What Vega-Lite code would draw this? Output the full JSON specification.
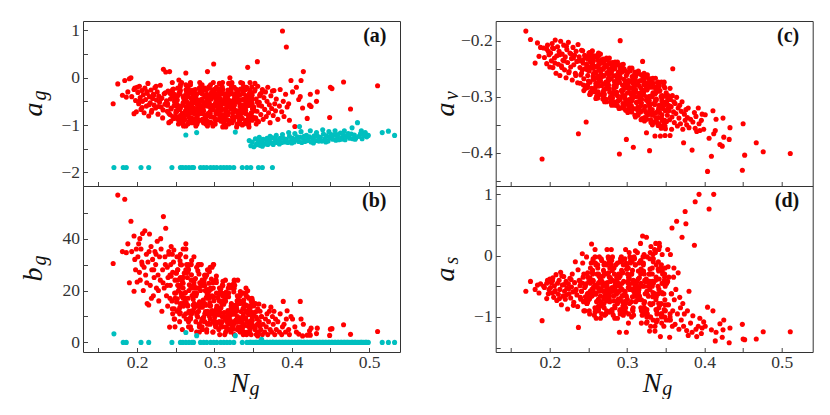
{
"$schema":"https://vega.github.io/schema/vega-lite/v6.json",
"padding":{"left":18,"top":20,"right":0,"bottom":0},
"background":"white",
"datasets":{
"red":[
{"Ng":0.169,"ag":-0.55,"bg":30.4,"av":-0.183,"as":-0.58},
{"Ng":0.175,"ag":-0.13,"bg":56.8,"av":-0.198,"as":-0.42},
{"Ng":0.184,"ag":-0.06,"bg":55.2,"av":-0.204,"as":-0.48},
{"Ng":0.186,"ag":-0.41,"bg":34.6,"av":-0.228,"as":-0.61},
{"Ng":0.190,"ag":-0.02,"bg":23,"av":-0.411,"as":-1.06},
{"Ng":0.192,"ag":0.0,"bg":46.7,"av":-0.213,"as":-0.50},
{"Ng":0.196,"ag":-0.76,"bg":19.7,"av":-0.241,"as":-0.70},
{"Ng":0.196,"ag":-0.25,"bg":41,"av":-0.215,"as":-0.45},
{"Ng":0.199,"ag":-0.72,"bg":36,"av":-0.225,"as":-0.55},
{"Ng":0.200,"ag":-0.20,"bg":23.3,"av":-0.247,"as":-0.38},
{"Ng":0.188,"ag":-0.30,"bg":38,"av":-0.212,"as":-0.46},
{"Ng":0.193,"ag":-0.40,"bg":35,"av":-0.230,"as":-0.52},
{"Ng":0.197,"ag":-0.22,"bg":32,"av":-0.208,"as":-0.40},
{"Ng":0.198,"ag":-0.48,"bg":28,"av":-0.219,"as":-0.62},
{"Ng":0.181,"ag":-0.37,"bg":35,"av":-0.240,"as":-0.55},
{"Ng":0.201,"ag":-0.31,"bg":33,"av":-0.222,"as":-0.52},
{"Ng":0.202,"ag":-0.55,"bg":38,"av":-0.236,"as":-0.44},
{"Ng":0.203,"ag":-0.18,"bg":27,"av":-0.205,"as":-0.61},
{"Ng":0.204,"ag":-0.42,"bg":24,"av":-0.248,"as":-0.36},
{"Ng":0.205,"ag":-0.67,"bg":36,"av":-0.214,"as":-0.68},
{"Ng":0.206,"ag":-0.27,"bg":31,"av":-0.231,"as":-0.49},
{"Ng":0.207,"ag":-0.50,"bg":42,"av":-0.199,"as":-0.57},
{"Ng":0.208,"ag":-0.36,"bg":20,"av":-0.258,"as":-0.31},
{"Ng":0.209,"ag":-0.74,"bg":29,"av":-0.227,"as":-0.73},
{"Ng":0.210,"ag":-0.22,"bg":43,"av":-0.211,"as":-0.45},
{"Ng":0.211,"ag":-0.46,"bg":26,"av":-0.242,"as":-0.63},
{"Ng":0.212,"ag":-0.60,"bg":34,"av":-0.219,"as":-0.40},
{"Ng":0.213,"ag":-0.33,"bg":15,"av":-0.262,"as":-0.55},
{"Ng":0.214,"ag":-0.12,"bg":31,"av":-0.201,"as":-0.27},
{"Ng":0.215,"ag":-0.81,"bg":14.4,"av":-0.245,"as":-0.80},
{"Ng":0.216,"ag":-0.40,"bg":41.8,"av":-0.224,"as":-0.48},
{"Ng":0.217,"ag":-0.53,"bg":22,"av":-0.235,"as":-0.66},
{"Ng":0.218,"ag":-0.26,"bg":37,"av":-0.208,"as":-0.34},
{"Ng":0.219,"ag":-0.69,"bg":28,"av":-0.252,"as":-0.58},
{"Ng":0.220,"ag":-0.44,"bg":32,"av":-0.229,"as":-0.71},
{"Ng":0.221,"ag":-0.35,"bg":18,"av":-0.266,"as":-0.42},
{"Ng":0.222,"ag":-0.58,"bg":25,"av":-0.216,"as":-0.53},
{"Ng":0.223,"ag":-0.21,"bg":35,"av":-0.239,"as":-0.87},
{"Ng":0.224,"ag":-0.64,"bg":30,"av":-0.203,"as":-0.46},
{"Ng":0.225,"ag":-0.47,"bg":21,"av":-0.255,"as":-0.62},
{"Ng":0.226,"ag":-0.30,"bg":39,"av":-0.222,"as":-0.37},
{"Ng":0.227,"ag":-0.77,"bg":26,"av":-0.247,"as":-0.69},
{"Ng":0.228,"ag":-0.39,"bg":16,"av":-0.232,"as":-0.51},
{"Ng":0.229,"ag":-0.52,"bg":33,"av":-0.270,"as":-0.30},
{"Ng":0.230,"ag":-0.16,"bg":24,"av":-0.212,"as":-0.59},
{"Ng":0.231,"ag":-0.62,"bg":36,"av":-0.243,"as":-0.76},
{"Ng":0.232,"ag":-0.43,"bg":12,"av":-0.226,"as":-0.44},
{"Ng":0.233,"ag":-0.85,"bg":28,"av":-0.258,"as":-0.10},
{"Ng":0.234,"ag":0.18,"bg":48.5,"av":-0.219,"as":-0.55},
{"Ng":0.235,"ag":-0.34,"bg":21,"av":-0.237,"as":-0.64},
{"Ng":0.236,"ag":-0.56,"bg":33,"av":-0.275,"as":-0.83},
{"Ng":0.237,"ag":0.12,"bg":44,"av":-0.366,"as":-1.17},
{"Ng":0.238,"ag":-0.49,"bg":18,"av":-0.229,"as":-0.40},
{"Ng":0.239,"ag":-0.71,"bg":29,"av":-0.248,"as":-0.49},
{"Ng":0.240,"ag":-0.28,"bg":25,"av":-0.261,"as":-0.71},
{"Ng":0.241,"ag":-0.95,"bg":35,"av":-0.217,"as":-0.58},
{"Ng":0.242,"ag":0.13,"bg":5.9,"av":-0.252,"as":0.03},
{"Ng":0.243,"ag":-0.45,"bg":22,"av":-0.240,"as":-0.35},
{"Ng":0.244,"ag":-0.66,"bg":37,"av":-0.268,"as":-0.90},
{"Ng":0.245,"ag":-0.38,"bg":16,"av":-0.226,"as":-0.52},
{"Ng":0.246,"ag":-0.82,"bg":27,"av":-0.285,"as":-0.67},
{"Ng":0.247,"ag":-0.24,"bg":31,"av":-0.345,"as":-0.46},
{"Ng":0.248,"ag":-0.59,"bg":13,"av":-0.245,"as":-0.78},
{"Ng":0.249,"ag":-0.41,"bg":24,"av":-0.233,"as":-0.28},
{"Ng":0.250,"ag":-0.74,"bg":19,"av":-0.272,"as":-0.61},
{"Ng":0.2035,"ag":-0.48,"bg":40,"av":-0.213,"as":-0.41},
{"Ng":0.2065,"ag":-0.63,"bg":30,"av":-0.240,"as":-0.59},
{"Ng":0.2125,"ag":-0.29,"bg":23,"av":-0.225,"as":-0.70},
{"Ng":0.2155,"ag":-0.57,"bg":35,"av":-0.248,"as":-0.33},
{"Ng":0.2185,"ag":-0.73,"bg":17,"av":-0.236,"as":-0.47},
{"Ng":0.2215,"ag":-0.37,"bg":28,"av":-0.210,"as":-0.64},
{"Ng":0.2245,"ag":-0.18,"bg":34,"av":-0.257,"as":-0.54},
{"Ng":0.2275,"ag":-0.61,"bg":20,"av":-0.224,"as":-0.39},
{"Ng":0.2305,"ag":-0.45,"bg":40,"av":-0.231,"as":-0.81},
{"Ng":0.2335,"ag":-0.68,"bg":23,"av":-0.262,"as":-0.57},
{"Ng":0.2365,"ag":-0.32,"bg":30,"av":-0.207,"as":-0.23},
{"Ng":0.2395,"ag":-0.55,"bg":14,"av":-0.276,"as":-0.68},
{"Ng":0.2425,"ag":-0.78,"bg":26,"av":-0.235,"as":-0.45},
{"Ng":0.2455,"ag":-0.27,"bg":34,"av":-0.250,"as":-0.74},
{"Ng":0.2485,"ag":-0.51,"bg":9,"av":-0.281,"as":-0.62},
{"Ng":0.2525,"ag":-0.62,"bg":22,"av":-0.237,"as":-0.45},
{"Ng":0.2480,"ag":-0.35,"bg":9,"av":-0.284,"as":-0.78},
{"Ng":0.2525,"ag":-0.88,"bg":28,"av":-0.247,"as":-0.20},
{"Ng":0.2560,"ag":-0.15,"bg":15,"av":-0.269,"as":-0.61},
{"Ng":0.2515,"ag":-0.71,"bg":33,"av":-0.221,"as":-0.95},
{"Ng":0.2490,"ag":-0.49,"bg":6,"av":-0.279,"as":-0.35},
{"Ng":0.2565,"ag":-0.95,"bg":19,"av":-0.259,"as":-0.52},
{"Ng":0.2560,"ag":-0.27,"bg":25,"av":-0.234,"as":-0.05},
{"Ng":0.2515,"ag":-0.56,"bg":12,"av":-0.296,"as":-0.70},
{"Ng":0.2560,"ag":-0.80,"bg":30,"av":-0.244,"as":-0.40},
{"Ng":0.2595,"ag":-0.40,"bg":17,"av":-0.276,"as":-0.88},
{"Ng":0.2550,"ag":-0.67,"bg":8,"av":-0.228,"as":-0.28},
{"Ng":0.2525,"ag":-0.22,"bg":24,"av":-0.292,"as":-0.58},
{"Ng":0.2600,"ag":-1.02,"bg":14,"av":-0.256,"as":-1.02},
{"Ng":0.2595,"ag":-0.53,"bg":36,"av":-0.281,"as":-0.15},
{"Ng":0.2550,"ag":-0.31,"bg":11,"av":-0.218,"as":-0.65},
{"Ng":0.2595,"ag":-0.76,"bg":21,"av":-0.266,"as":-0.48},
{"Ng":0.2630,"ag":-0.44,"bg":27,"av":-0.243,"as":-0.82},
{"Ng":0.2585,"ag":-0.90,"bg":5,"av":-0.290,"as":0.10},
{"Ng":0.2560,"ag":-0.60,"bg":22,"av":-0.249,"as":-0.55},
{"Ng":0.2635,"ag":-0.62,"bg":9,"av":-0.273,"as":-0.33},
{"Ng":0.2630,"ag":-0.35,"bg":28,"av":-0.228,"as":-0.74},
{"Ng":0.2585,"ag":-0.88,"bg":15,"av":-0.285,"as":-0.92},
{"Ng":0.2630,"ag":-0.15,"bg":33,"av":-0.263,"as":-0.45},
{"Ng":0.2665,"ag":-0.71,"bg":6,"av":-0.240,"as":-0.78},
{"Ng":0.2620,"ag":-0.49,"bg":19,"av":-0.302,"as":-0.20},
{"Ng":0.2595,"ag":-0.95,"bg":25,"av":-0.246,"as":-0.61},
{"Ng":0.2670,"ag":-0.27,"bg":12,"av":-0.280,"as":-0.95},
{"Ng":0.2665,"ag":-0.56,"bg":30,"av":-0.235,"as":-0.35},
{"Ng":0.2620,"ag":-0.80,"bg":17,"av":-0.297,"as":-0.52},
{"Ng":0.2665,"ag":-0.40,"bg":8,"av":-0.260,"as":-0.05},
{"Ng":0.2700,"ag":-0.67,"bg":24,"av":-0.287,"as":-0.70},
{"Ng":0.2655,"ag":-0.22,"bg":14,"av":-0.224,"as":-0.40},
{"Ng":0.2630,"ag":-1.02,"bg":36,"av":-0.268,"as":-0.88},
{"Ng":0.2705,"ag":-0.53,"bg":11,"av":-0.247,"as":-0.28},
{"Ng":0.2700,"ag":-0.31,"bg":21,"av":-0.297,"as":-0.58},
{"Ng":0.2655,"ag":-0.76,"bg":27,"av":-0.254,"as":-1.02},
{"Ng":0.2700,"ag":-0.44,"bg":5,"av":-0.277,"as":-0.15},
{"Ng":0.2735,"ag":-0.90,"bg":22,"av":-0.234,"as":-0.65},
{"Ng":0.2690,"ag":-0.60,"bg":9,"av":-0.291,"as":-0.48},
{"Ng":0.2665,"ag":-0.62,"bg":28,"av":-0.265,"as":-0.82},
{"Ng":0.2740,"ag":-0.35,"bg":15,"av":-0.244,"as":0.10},
{"Ng":0.2735,"ag":-0.88,"bg":33,"av":-0.309,"as":-0.55},
{"Ng":0.2690,"ag":-0.15,"bg":6,"av":-0.251,"as":-0.33},
{"Ng":0.2735,"ag":-0.71,"bg":19,"av":-0.284,"as":-0.74},
{"Ng":0.2770,"ag":-0.49,"bg":21,"av":-0.241,"as":-0.92},
{"Ng":0.2725,"ag":-0.95,"bg":12,"av":-0.304,"as":-0.45},
{"Ng":0.2700,"ag":-0.27,"bg":30,"av":-0.262,"as":-0.78},
{"Ng":0.2775,"ag":-0.56,"bg":14,"av":-0.292,"as":-0.20},
{"Ng":0.2770,"ag":-0.80,"bg":4,"av":-0.231,"as":-0.61},
{"Ng":0.2725,"ag":-0.40,"bg":24,"av":-0.274,"as":-0.95},
{"Ng":0.2770,"ag":-0.67,"bg":11,"av":-0.251,"as":-0.35},
{"Ng":0.2805,"ag":-0.22,"bg":30,"av":-0.303,"as":-0.52},
{"Ng":0.2760,"ag":-1.02,"bg":8,"av":-0.261,"as":-0.05},
{"Ng":0.2735,"ag":-0.53,"bg":21,"av":-0.279,"as":-0.70},
{"Ng":0.2810,"ag":-0.31,"bg":23,"av":-0.239,"as":-0.40},
{"Ng":0.2805,"ag":-0.76,"bg":6,"av":-0.298,"as":-0.88},
{"Ng":0.2760,"ag":-0.44,"bg":18,"av":-0.271,"as":-0.28},
{"Ng":0.2805,"ag":-0.90,"bg":7,"av":-0.248,"as":-0.58},
{"Ng":0.2840,"ag":-0.60,"bg":24,"av":-0.315,"as":-1.02},
{"Ng":0.2795,"ag":-0.62,"bg":12,"av":-0.258,"as":-0.15},
{"Ng":0.2770,"ag":-0.35,"bg":29,"av":-0.286,"as":-0.65},
{"Ng":0.2845,"ag":-0.88,"bg":5,"av":-0.246,"as":-0.48},
{"Ng":0.2840,"ag":-0.15,"bg":15,"av":-0.310,"as":-0.82},
{"Ng":0.2795,"ag":-0.71,"bg":21,"av":-0.268,"as":0.10},
{"Ng":0.2840,"ag":-0.49,"bg":9,"av":-0.295,"as":-0.55},
{"Ng":0.2875,"ag":-0.95,"bg":26,"av":-0.238,"as":-0.33},
{"Ng":0.2830,"ag":-0.27,"bg":14,"av":-0.280,"as":-0.74},
{"Ng":0.2805,"ag":-0.56,"bg":4,"av":-0.253,"as":-0.92},
{"Ng":0.2880,"ag":-0.80,"bg":20,"av":-0.308,"as":-0.45},
{"Ng":0.2875,"ag":-0.40,"bg":11,"av":-0.268,"as":-0.78},
{"Ng":0.2830,"ag":-0.67,"bg":30,"av":-0.285,"as":-0.20},
{"Ng":0.2875,"ag":-0.22,"bg":8,"av":-0.243,"as":-0.61},
{"Ng":0.2910,"ag":-1.02,"bg":17,"av":-0.305,"as":-0.95},
{"Ng":0.2865,"ag":-0.53,"bg":23,"av":-0.277,"as":-0.35},
{"Ng":0.2840,"ag":-0.31,"bg":6,"av":-0.250,"as":-0.52},
{"Ng":0.2915,"ag":-0.76,"bg":18,"av":-0.320,"as":-0.05},
{"Ng":0.2910,"ag":-0.44,"bg":7,"av":-0.265,"as":-0.70},
{"Ng":0.2865,"ag":-0.90,"bg":24,"av":-0.292,"as":-0.40},
{"Ng":0.2910,"ag":-0.60,"bg":12,"av":-0.250,"as":-0.88},
{"Ng":0.2945,"ag":-0.62,"bg":29,"av":-0.317,"as":-0.28},
{"Ng":0.2900,"ag":-0.35,"bg":5,"av":-0.274,"as":-0.58},
{"Ng":0.2875,"ag":-0.88,"bg":15,"av":-0.298,"as":-1.02},
{"Ng":0.2950,"ag":-0.15,"bg":21,"av":-0.242,"as":-0.15},
{"Ng":0.2945,"ag":-0.71,"bg":9,"av":-0.287,"as":-0.65},
{"Ng":0.2900,"ag":-0.49,"bg":26,"av":-0.259,"as":-0.48},
{"Ng":0.2945,"ag":-0.95,"bg":14,"av":-0.312,"as":-0.82},
{"Ng":0.2980,"ag":-0.27,"bg":4,"av":-0.274,"as":0.10},
{"Ng":0.2935,"ag":-0.56,"bg":20,"av":-0.291,"as":-0.55},
{"Ng":0.2910,"ag":-0.80,"bg":11,"av":-0.245,"as":-0.33},
{"Ng":0.2985,"ag":-0.40,"bg":30,"av":-0.309,"as":-0.74},
{"Ng":0.2980,"ag":-0.67,"bg":8,"av":-0.284,"as":-0.92},
{"Ng":0.2935,"ag":-0.22,"bg":17,"av":-0.256,"as":-0.45},
{"Ng":0.2980,"ag":-1.02,"bg":23,"av":-0.324,"as":-0.78},
{"Ng":0.3015,"ag":-0.53,"bg":6,"av":-0.271,"as":-0.20},
{"Ng":0.2970,"ag":-0.31,"bg":18,"av":-0.298,"as":-0.61},
{"Ng":0.2945,"ag":-0.76,"bg":7,"av":-0.252,"as":-0.95},
{"Ng":0.3020,"ag":-0.44,"bg":24,"av":-0.321,"as":-0.35},
{"Ng":0.3015,"ag":-0.90,"bg":12,"av":-0.281,"as":-0.52},
{"Ng":0.2970,"ag":-0.60,"bg":29,"av":-0.303,"as":-0.05},
{"Ng":0.3025,"ag":-0.48,"bg":13,"av":-0.312,"as":-0.38},
{"Ng":0.2981,"ag":-0.83,"bg":4,"av":-0.254,"as":-0.85},
{"Ng":0.3026,"ag":-0.20,"bg":19,"av":-0.292,"as":0.05},
{"Ng":0.3062,"ag":-0.66,"bg":8,"av":-0.249,"as":-0.55},
{"Ng":0.3017,"ag":-0.37,"bg":24,"av":-0.326,"as":-1.10},
{"Ng":0.2993,"ag":-0.98,"bg":11,"av":-0.275,"as":-0.22},
{"Ng":0.3068,"ag":-0.55,"bg":3,"av":-0.304,"as":-0.67},
{"Ng":0.3064,"ag":-0.12,"bg":16,"av":-0.264,"as":-0.45},
{"Ng":0.3019,"ag":-0.74,"bg":7,"av":-0.316,"as":-0.95},
{"Ng":0.3065,"ag":-0.42,"bg":21,"av":-0.284,"as":-0.10},
{"Ng":0.3100,"ag":-0.90,"bg":10,"av":-0.256,"as":-0.60},
{"Ng":0.3056,"ag":-0.29,"bg":5,"av":-0.308,"as":-0.30},
{"Ng":0.3031,"ag":-0.61,"bg":14,"av":-0.272,"as":-0.78},
{"Ng":0.3107,"ag":-1.04,"bg":18,"av":-0.336,"as":0.08},
{"Ng":0.3102,"ag":-0.50,"bg":6,"av":-0.271,"as":-0.50},
{"Ng":0.3058,"ag":-0.24,"bg":12,"av":-0.298,"as":-1.00},
{"Ng":0.3103,"ag":-0.79,"bg":22,"av":-0.291,"as":-0.15},
{"Ng":0.3139,"ag":-0.34,"bg":9,"av":-0.318,"as":-0.72},
{"Ng":0.3094,"ag":-0.69,"bg":15,"av":-0.261,"as":-0.42},
{"Ng":0.3070,"ag":-0.58,"bg":13,"av":-0.294,"as":-0.88},
{"Ng":0.3145,"ag":-0.48,"bg":4,"av":-0.254,"as":-0.25},
{"Ng":0.3141,"ag":-0.83,"bg":19,"av":-0.333,"as":-0.62},
{"Ng":0.3096,"ag":-0.20,"bg":8,"av":-0.281,"as":-0.05},
{"Ng":0.3142,"ag":-0.66,"bg":24,"av":-0.309,"as":-0.38},
{"Ng":0.3177,"ag":-0.37,"bg":11,"av":-0.271,"as":-0.85},
{"Ng":0.3133,"ag":-0.98,"bg":3,"av":-0.323,"as":0.05},
{"Ng":0.3108,"ag":-0.55,"bg":16,"av":-0.287,"as":-0.55},
{"Ng":0.3184,"ag":-0.12,"bg":7,"av":-0.261,"as":-1.10},
{"Ng":0.3179,"ag":-0.74,"bg":21,"av":-0.316,"as":-0.22},
{"Ng":0.3135,"ag":-0.42,"bg":10,"av":-0.278,"as":-0.67},
{"Ng":0.3180,"ag":-0.90,"bg":5,"av":-0.341,"as":-0.45},
{"Ng":0.3216,"ag":-0.29,"bg":14,"av":-0.278,"as":-0.95},
{"Ng":0.3171,"ag":-0.61,"bg":18,"av":-0.305,"as":-0.10},
{"Ng":0.3147,"ag":-1.04,"bg":6,"av":-0.294,"as":-0.60},
{"Ng":0.3222,"ag":-0.50,"bg":12,"av":-0.323,"as":-0.30},
{"Ng":0.3218,"ag":-0.24,"bg":22,"av":-0.268,"as":-0.78},
{"Ng":0.3173,"ag":-0.79,"bg":9,"av":-0.300,"as":0.20},
{"Ng":0.3219,"ag":-0.34,"bg":15,"av":-0.258,"as":-0.50},
{"Ng":0.3254,"ag":-0.69,"bg":13,"av":-0.340,"as":-1.00},
{"Ng":0.3210,"ag":-0.58,"bg":4,"av":-0.288,"as":-0.15},
{"Ng":0.3185,"ag":-0.48,"bg":19,"av":-0.311,"as":-0.72},
{"Ng":0.3261,"ag":-0.83,"bg":8,"av":-0.276,"as":-0.42},
{"Ng":0.3256,"ag":-0.20,"bg":24,"av":-0.330,"as":-0.88},
{"Ng":0.3212,"ag":-0.66,"bg":11,"av":-0.293,"as":-0.25},
{"Ng":0.3257,"ag":-0.37,"bg":3,"av":-0.265,"as":-0.62},
{"Ng":0.3293,"ag":-0.98,"bg":16,"av":-0.323,"as":-0.05},
{"Ng":0.3248,"ag":-0.55,"bg":7,"av":-0.285,"as":-0.38},
{"Ng":0.3224,"ag":-0.12,"bg":21,"av":-0.343,"as":-0.85},
{"Ng":0.3299,"ag":-0.74,"bg":10,"av":-0.283,"as":0.05},
{"Ng":0.3295,"ag":-0.42,"bg":5,"av":-0.313,"as":-0.55},
{"Ng":0.3250,"ag":-0.90,"bg":14,"av":-0.300,"as":-1.10},
{"Ng":0.3296,"ag":-0.29,"bg":18,"av":-0.328,"as":-0.22},
{"Ng":0.3331,"ag":-0.61,"bg":6,"av":-0.275,"as":-0.67},
{"Ng":0.3287,"ag":-1.04,"bg":12,"av":-0.307,"as":-0.45},
{"Ng":0.3262,"ag":-0.50,"bg":22,"av":-0.261,"as":-0.95},
{"Ng":0.3338,"ag":-0.24,"bg":9,"av":-0.345,"as":-0.10},
{"Ng":0.3333,"ag":-0.79,"bg":15,"av":-0.295,"as":-0.60},
{"Ng":0.3289,"ag":-0.34,"bg":13,"av":-0.317,"as":-0.30},
{"Ng":0.3334,"ag":-0.69,"bg":4,"av":-0.280,"as":-0.78},
{"Ng":0.3370,"ag":-0.58,"bg":19,"av":-0.337,"as":0.20},
{"Ng":0.3325,"ag":-0.48,"bg":8,"av":-0.300,"as":-0.50},
{"Ng":0.3301,"ag":-0.83,"bg":24,"av":-0.268,"as":-1.00},
{"Ng":0.3376,"ag":-0.20,"bg":11,"av":-0.328,"as":-0.15},
{"Ng":0.3372,"ag":-0.66,"bg":3,"av":-0.292,"as":-0.72},
{"Ng":0.3327,"ag":-0.37,"bg":16,"av":-0.350,"as":-0.42},
{"Ng":0.3373,"ag":-0.98,"bg":7,"av":-0.287,"as":-0.88},
{"Ng":0.3408,"ag":-0.55,"bg":21,"av":-0.320,"as":-0.25},
{"Ng":0.3364,"ag":-0.12,"bg":10,"av":-0.307,"as":-0.62},
{"Ng":0.3339,"ag":-0.74,"bg":5,"av":-0.330,"as":-0.05},
{"Ng":0.3415,"ag":-0.42,"bg":14,"av":-0.280,"as":-0.38},
{"Ng":0.3410,"ag":-0.90,"bg":18,"av":-0.315,"as":-0.85},
{"Ng":0.3366,"ag":-0.29,"bg":6,"av":-0.267,"as":0.05},
{"Ng":0.3411,"ag":-0.61,"bg":12,"av":-0.350,"as":-0.55},
{"Ng":0.3447,"ag":-1.04,"bg":17,"av":-0.302,"as":-1.10},
{"Ng":0.3402,"ag":-0.50,"bg":9,"av":-0.324,"as":-0.22},
{"Ng":0.3378,"ag":-0.24,"bg":15,"av":-0.283,"as":-0.67},
{"Ng":0.3453,"ag":-0.79,"bg":13,"av":-0.342,"as":-0.45},
{"Ng":0.3449,"ag":-0.34,"bg":4,"av":-0.307,"as":-0.95},
{"Ng":0.3404,"ag":-0.69,"bg":19,"av":-0.274,"as":-0.10},
{"Ng":0.3450,"ag":-0.58,"bg":8,"av":-0.332,"as":-0.60},
{"Ng":0.3485,"ag":-0.48,"bg":17,"av":-0.299,"as":-0.30},
{"Ng":0.3441,"ag":-0.83,"bg":11,"av":-0.356,"as":-0.78},
{"Ng":0.3416,"ag":-0.20,"bg":3,"av":-0.290,"as":0.20},
{"Ng":0.3492,"ag":-0.66,"bg":16,"av":-0.325,"as":-0.50},
{"Ng":0.3487,"ag":-0.37,"bg":7,"av":-0.314,"as":-1.00},
{"Ng":0.3443,"ag":-0.98,"bg":14,"av":-0.337,"as":-0.15},
{"Ng":0.3488,"ag":-0.55,"bg":10,"av":-0.284,"as":-0.72},
{"Ng":0.3524,"ag":-0.12,"bg":5,"av":-0.321,"as":-0.42},
{"Ng":0.3479,"ag":-0.74,"bg":14,"av":-0.274,"as":-0.88},
{"Ng":0.3455,"ag":-0.42,"bg":12,"av":-0.352,"as":-0.25},
{"Ng":0.351,"ag":-0.62,"bg":11,"av":-0.310,"as":-0.45},
{"Ng":0.352,"ag":-0.28,"bg":6,"av":-0.333,"as":-0.80},
{"Ng":0.353,"ag":-0.85,"bg":15,"av":-0.298,"as":-0.18},
{"Ng":0.354,"ag":-0.45,"bg":3,"av":-0.322,"as":-1.05},
{"Ng":0.355,"ag":-0.71,"bg":9,"av":-0.341,"as":-1.33},
{"Ng":0.356,"ag":-0.18,"bg":13,"av":-0.305,"as":0.02},
{"Ng":0.357,"ag":-0.93,"bg":4,"av":-0.318,"as":-0.62},
{"Ng":0.358,"ag":-0.52,"bg":8,"av":-0.336,"as":0.45},
{"Ng":0.359,"ag":-0.35,"bg":12,"av":-0.250,"as":-0.90},
{"Ng":0.360,"ag":-0.78,"bg":5,"av":-0.327,"as":-0.35},
{"Ng":0.361,"ag":-0.60,"bg":10,"av":-0.346,"as":-0.72},
{"Ng":0.362,"ag":-0.25,"bg":3,"av":-0.312,"as":-1.12},
{"Ng":0.363,"ag":-0.88,"bg":7,"av":-0.330,"as":-0.55},
{"Ng":0.364,"ag":-0.42,"bg":14,"av":-0.301,"as":0.56},
{"Ng":0.365,"ag":-0.67,"bg":4,"av":-0.352,"as":-0.95},
{"Ng":0.366,"ag":-0.30,"bg":9,"av":-0.320,"as":-0.28},
{"Ng":0.367,"ag":-0.82,"bg":6,"av":-0.338,"as":-1.20},
{"Ng":0.368,"ag":-0.50,"bg":11,"av":-0.315,"as":-0.68},
{"Ng":0.369,"ag":-0.20,"bg":3,"av":-0.348,"as":-0.85},
{"Ng":0.370,"ag":-0.74,"bg":8,"av":-0.326,"as":-1.05},
{"Ng":0.371,"ag":-0.57,"bg":12,"av":-0.309,"as":0.30},
{"Ng":0.372,"ag":-0.95,"bg":5,"av":-0.358,"as":-0.78},
{"Ng":0.373,"ag":-0.38,"bg":13.6,"av":-0.382,"as":-1.15},
{"Ng":0.374,"ag":-0.65,"bg":4,"av":-0.331,"as":-0.95},
{"Ng":0.375,"ag":-0.28,"bg":10,"av":-0.342,"as":0.72},
{"Ng":0.376,"ag":-0.80,"bg":7,"av":-0.323,"as":0.52},
{"Ng":0.377,"ag":-0.27,"bg":12,"av":-0.350,"as":-1.22},
{"Ng":0.378,"ag":-0.55,"bg":3,"av":-0.337,"as":-0.90},
{"Ng":0.379,"ag":-0.70,"bg":9,"av":-0.320,"as":-1.30},
{"Ng":0.380,"ag":-0.45,"bg":5,"av":-0.355,"as":-0.58},
{"Ng":0.382,"ag":-0.88,"bg":8,"av":-0.340,"as":-1.10},
{"Ng":0.384,"ag":-0.60,"bg":4,"av":-0.395,"as":-1.25},
{"Ng":0.385,"ag":-0.25,"bg":11,"av":-0.345,"as":-0.98},
{"Ng":0.387,"ag":-0.72,"bg":3,"av":-0.328,"as":0.17},
{"Ng":0.388,"ag":0.99,"bg":6,"av":-0.356,"as":0.88},
{"Ng":0.389,"ag":-0.50,"bg":15.8,"av":-0.335,"as":-1.20},
{"Ng":0.390,"ag":-0.82,"bg":7,"av":-0.362,"as":-1.32},
{"Ng":0.392,"ag":-0.35,"bg":4,"av":-0.320,"as":-1.15},
{"Ng":0.393,"ag":0.65,"bg":9,"av":-0.348,"as":1.00},
{"Ng":0.394,"ag":-0.62,"bg":12.2,"av":-0.360,"as":-1.02},
{"Ng":0.396,"ag":-0.55,"bg":5,"av":-0.342,"as":-1.27},
{"Ng":0.397,"ag":-0.90,"bg":3,"av":-0.331,"as":-1.18},
{"Ng":0.399,"ag":-0.06,"bg":10,"av":-0.358,"as":-1.08},
{"Ng":0.3555,"ag":0.34,"bg":7,"av":-0.369,"as":-1.00},
{"Ng":0.343,"ag":0.22,"bg":19.9,"av":-0.370,"as":-1.32},
{"Ng":0.349,"ag":-0.90,"bg":6,"av":-0.369,"as":-0.80},
{"Ng":0.336,"ag":-1.00,"bg":5,"av":-0.370,"as":-1.23},
{"Ng":0.325,"ag":-0.60,"bg":22.8,"av":-0.364,"as":0.30},
{"Ng":0.329,"ag":-0.70,"bg":8,"av":-0.396,"as":-1.23},
{"Ng":0.320,"ag":0.00,"bg":5,"av":-0.237,"as":0.32},
{"Ng":0.299,"ag":0.29,"bg":30,"av":-0.376,"as":-1.25},
{"Ng":0.308,"ag":-0.30,"bg":6,"av":-0.390,"as":-0.40},
{"Ng":0.290,"ag":-0.95,"bg":4,"av":-0.402,"as":-1.25},
{"Ng":0.263,"ag":0.10,"bg":38,"av":-0.222,"as":-0.30},
{"Ng":0.254,"ag":-0.05,"bg":33,"av":-0.240,"as":0.19},
{"Ng":0.291,"ag":0.13,"bg":28,"av":-0.200,"as":-0.10},
{"Ng":0.401,"ag":-0.30,"bg":9,"av":-0.332,"as":-1.15},
{"Ng":0.404,"ag":-1.03,"bg":6,"av":-0.433,"as":-0.84},
{"Ng":0.406,"ag":-0.20,"bg":4,"av":-0.374,"as":0.76},
{"Ng":0.409,"ag":-0.46,"bg":3.2,"av":-0.406,"as":-1.21},
{"Ng":0.411,"ag":-0.40,"bg":15.8,"av":-0.325,"as":-0.90},
{"Ng":0.412,"ag":-0.06,"bg":9,"av":-0.366,"as":1.00},
{"Ng":0.414,"ag":-0.64,"bg":2.5,"av":-0.360,"as":-1.39},
{"Ng":0.415,"ag":0.13,"bg":7,"av":-0.340,"as":-1.25},
{"Ng":0.420,"ag":-0.86,"bg":2.8,"av":-0.385,"as":-1.11},
{"Ng":0.423,"ag":-0.58,"bg":4.5,"av":-0.388,"as":-1.33},
{"Ng":0.424,"ag":-0.35,"bg":2.8,"av":-0.338,"as":-1.21},
{"Ng":0.425,"ag":-0.61,"bg":5.5,"av":-0.372,"as":-1.05},
{"Ng":0.432,"ag":-0.50,"bg":3.4,"av":-0.376,"as":-1.42},
{"Ng":0.433,"ag":-0.30,"bg":5.5,"av":-0.355,"as":-1.18},
{"Ng":0.449,"ag":-0.84,"bg":2.7,"av":-0.431,"as":-1.12},
{"Ng":0.450,"ag":-0.20,"bg":5.1,"av":-0.348,"as":-1.36},
{"Ng":0.452,"ag":-0.23,"bg":5.3,"av":-0.404,"as":-1.37},
{"Ng":0.467,"ag":-0.09,"bg":6.8,"av":-0.382,"as":-1.36},
{"Ng":0.476,"ag":-0.66,"bg":3.1,"av":-0.398,"as":-1.24},
{"Ng":0.511,"ag":-0.17,"bg":4.2,"av":-0.401,"as":-1.24},
{"Ng":0.2390,"ag":-0.58,"bg":22,"av":-0.236,"as":-0.42},
{"Ng":0.2435,"ag":-0.92,"bg":30,"av":-0.279,"as":-0.75},
{"Ng":0.2425,"ag":-0.33,"bg":17,"av":-0.218,"as":-0.12},
{"Ng":0.2410,"ag":-0.75,"bg":34,"av":-0.258,"as":-0.58},
{"Ng":0.2455,"ag":-0.10,"bg":13,"av":-0.230,"as":-0.90},
{"Ng":0.2440,"ag":-0.64,"bg":25.5,"av":-0.289,"as":-0.30},
{"Ng":0.2485,"ag":-0.45,"bg":19,"av":-0.252,"as":-0.66},
{"Ng":0.2475,"ag":-0.86,"bg":35.6,"av":-0.242,"as":-0.02},
{"Ng":0.2460,"ag":-0.25,"bg":11,"av":-0.281,"as":-0.50},
{"Ng":0.2505,"ag":-0.70,"bg":26.7,"av":-0.222,"as":-0.42},
{"Ng":0.2490,"ag":-0.52,"bg":17,"av":-0.262,"as":-0.75},
{"Ng":0.2535,"ag":-0.98,"bg":20,"av":-0.235,"as":-0.12},
{"Ng":0.2525,"ag":-0.38,"bg":28,"av":-0.295,"as":-0.58},
{"Ng":0.2510,"ag":-0.58,"bg":15.6,"av":-0.254,"as":-0.90},
{"Ng":0.2555,"ag":-0.92,"bg":31.5,"av":-0.246,"as":-0.30},
{"Ng":0.2540,"ag":-0.33,"bg":12.6,"av":-0.285,"as":-0.66},
{"Ng":0.2585,"ag":-0.75,"bg":23.5,"av":-0.227,"as":-0.02},
{"Ng":0.2575,"ag":-0.10,"bg":17.8,"av":-0.268,"as":-0.50},
{"Ng":0.2560,"ag":-0.64,"bg":34,"av":-0.237,"as":-0.42},
{"Ng":0.2605,"ag":-0.45,"bg":10.2,"av":-0.299,"as":-0.75},
{"Ng":0.2590,"ag":-0.86,"bg":25,"av":-0.258,"as":-0.12},
{"Ng":0.2635,"ag":-0.25,"bg":15.4,"av":-0.251,"as":-0.58},
{"Ng":0.2625,"ag":-0.70,"bg":19.2,"av":-0.291,"as":-0.90},
{"Ng":0.2610,"ag":-0.52,"bg":26.7,"av":-0.229,"as":-0.30},
{"Ng":0.2655,"ag":-0.98,"bg":14.3,"av":-0.272,"as":-0.66},
{"Ng":0.2640,"ag":-0.38,"bg":30,"av":-0.241,"as":-0.02},
{"Ng":0.2685,"ag":-0.58,"bg":11.2,"av":-0.304,"as":-0.50},
{"Ng":0.2675,"ag":-0.92,"bg":22.2,"av":-0.263,"as":-0.42},
{"Ng":0.2660,"ag":-0.33,"bg":17,"av":-0.253,"as":-0.75},
{"Ng":0.2705,"ag":-0.75,"bg":31.6,"av":-0.295,"as":-0.12},
{"Ng":0.2690,"ag":-0.10,"bg":9.6,"av":-0.233,"as":-0.58},
{"Ng":0.2735,"ag":-0.64,"bg":23,"av":-0.277,"as":-0.90},
{"Ng":0.2725,"ag":-0.45,"bg":14.4,"av":-0.247,"as":-0.30},
{"Ng":0.2710,"ag":-0.86,"bg":18.1,"av":-0.306,"as":-0.66},
{"Ng":0.2755,"ag":-0.25,"bg":24.6,"av":-0.268,"as":-0.02},
{"Ng":0.2740,"ag":-0.70,"bg":13.4,"av":-0.257,"as":-0.50},
{"Ng":0.2785,"ag":-0.52,"bg":27.6,"av":-0.300,"as":-0.42},
{"Ng":0.2775,"ag":-0.98,"bg":10.4,"av":-0.239,"as":-0.75},
{"Ng":0.2760,"ag":-0.38,"bg":21,"av":-0.279,"as":-0.12},
{"Ng":0.2805,"ag":-0.58,"bg":15.2,"av":-0.251,"as":-0.58},
{"Ng":0.2790,"ag":-0.92,"bg":30,"av":-0.310,"as":-0.90},
{"Ng":0.2835,"ag":-0.33,"bg":8.2,"av":-0.273,"as":-0.30},
{"Ng":0.2825,"ag":-0.75,"bg":21.7,"av":-0.263,"as":-0.66},
{"Ng":0.2810,"ag":-0.10,"bg":13.6,"av":-0.302,"as":-0.02},
{"Ng":0.2855,"ag":-0.64,"bg":16.3,"av":-0.243,"as":-0.50},
{"Ng":0.2840,"ag":-0.45,"bg":23,"av":-0.283,"as":-0.42},
{"Ng":0.2885,"ag":-0.86,"bg":11.9,"av":-0.256,"as":-0.75},
{"Ng":0.2875,"ag":-0.25,"bg":25.8,"av":-0.316,"as":-0.12},
{"Ng":0.2860,"ag":-0.70,"bg":9.7,"av":-0.275,"as":-0.58},
{"Ng":0.2905,"ag":-0.52,"bg":18.9,"av":-0.267,"as":-0.90},
{"Ng":0.2890,"ag":-0.98,"bg":14.3,"av":-0.306,"as":-0.30},
{"Ng":0.2935,"ag":-0.38,"bg":27.3,"av":-0.248,"as":-0.66},
{"Ng":0.2925,"ag":-0.58,"bg":7.4,"av":-0.289,"as":-0.02},
{"Ng":0.2910,"ag":-0.92,"bg":20.4,"av":-0.258,"as":-0.50},
{"Ng":0.2955,"ag":-0.33,"bg":11.9,"av":-0.320,"as":-0.42},
{"Ng":0.2940,"ag":-0.75,"bg":15.25,"av":-0.279,"as":-0.75},
{"Ng":0.2985,"ag":-0.10,"bg":21,"av":-0.272,"as":-0.12},
{"Ng":0.2975,"ag":-0.64,"bg":10.9,"av":-0.312,"as":-0.58},
{"Ng":0.2960,"ag":-0.45,"bg":24.4,"av":-0.250,"as":-0.90},
{"Ng":0.3005,"ag":-0.86,"bg":8.1,"av":-0.293,"as":-0.30},
{"Ng":0.2990,"ag":-0.25,"bg":17.6,"av":-0.262,"as":-0.66},
{"Ng":0.3035,"ag":-0.70,"bg":12.6,"av":-0.325,"as":-0.02},
{"Ng":0.3025,"ag":-0.52,"bg":25.6,"av":-0.285,"as":-0.50},
{"Ng":0.3010,"ag":-0.98,"bg":6.8,"av":-0.274,"as":-0.42},
{"Ng":0.3055,"ag":-0.38,"bg":18.4,"av":-0.316,"as":-0.75},
{"Ng":0.3040,"ag":-0.58,"bg":11,"av":-0.254,"as":-0.12},
{"Ng":0.3085,"ag":-0.92,"bg":13.4,"av":-0.298,"as":-0.58},
{"Ng":0.3075,"ag":-0.33,"bg":19.6,"av":-0.268,"as":-0.90},
{"Ng":0.3060,"ag":-0.75,"bg":10.7,"av":-0.327,"as":-0.30},
{"Ng":0.3105,"ag":-0.10,"bg":22.1,"av":-0.289,"as":-0.66},
{"Ng":0.3090,"ag":-0.64,"bg":7.5,"av":-0.278,"as":-0.02},
{"Ng":0.3135,"ag":-0.45,"bg":16.3,"av":-0.321,"as":-0.50},
{"Ng":0.3125,"ag":-0.86,"bg":11.5,"av":-0.260,"as":-0.42},
{"Ng":0.3110,"ag":-0.25,"bg":23.6,"av":-0.300,"as":-0.75},
{"Ng":0.3155,"ag":-0.70,"bg":5.6,"av":-0.272,"as":-0.12},
{"Ng":0.3140,"ag":-0.52,"bg":17,"av":-0.331,"as":-0.58},
{"Ng":0.3185,"ag":-0.98,"bg":9.4,"av":-0.294,"as":-0.90},
{"Ng":0.3175,"ag":-0.38,"bg":12.3,"av":-0.284,"as":-0.30},
{"Ng":0.3160,"ag":-0.58,"bg":17.9,"av":-0.323,"as":-0.66},
{"Ng":0.3205,"ag":-0.92,"bg":8.5,"av":-0.264,"as":-0.02},
{"Ng":0.3190,"ag":-0.33,"bg":22.1,"av":-0.304,"as":-0.50},
{"Ng":0.3235,"ag":-0.75,"bg":6.2,"av":-0.277,"as":-0.42},
{"Ng":0.3225,"ag":-0.10,"bg":14.4,"av":-0.337,"as":-0.75},
{"Ng":0.3210,"ag":-0.64,"bg":10.6,"av":-0.296,"as":-0.12},
{"Ng":0.3255,"ag":-0.45,"bg":20.9,"av":-0.288,"as":-0.58},
{"Ng":0.3240,"ag":-0.86,"bg":5.1,"av":-0.327,"as":-0.90},
{"Ng":0.3285,"ag":-0.25,"bg":14.1,"av":-0.269,"as":-0.30},
{"Ng":0.3275,"ag":-0.70,"bg":8.5,"av":-0.310,"as":-0.66},
{"Ng":0.3260,"ag":-0.52,"bg":11.25,"av":-0.279,"as":-0.02},
{"Ng":0.3305,"ag":-0.98,"bg":15.7,"av":-0.341,"as":-1.15},
{"Ng":0.3290,"ag":-0.38,"bg":7.8,"av":-0.300,"as":-0.42},
{"Ng":0.3335,"ag":-0.58,"bg":19.6,"av":-0.293,"as":-1.05},
{"Ng":0.3325,"ag":-0.92,"bg":4.4,"av":-0.333,"as":-0.20},
{"Ng":0.3310,"ag":-0.33,"bg":15.2,"av":-0.271,"as":-0.80},
{"Ng":0.3355,"ag":-0.75,"bg":7.8,"av":-0.314,"as":0.10},
{"Ng":0.3340,"ag":-0.10,"bg":18.9,"av":-0.283,"as":-0.45},
{"Ng":0.3385,"ag":-0.64,"bg":3.9,"av":-0.346,"as":-0.95},
{"Ng":0.3375,"ag":-0.45,"bg":13.2,"av":-0.306,"as":-0.35},
{"Ng":0.3360,"ag":-0.86,"bg":8.9,"av":-0.295,"as":-1.15},
{"Ng":0.3405,"ag":-0.25,"bg":9.4,"av":-0.337,"as":-0.62},
{"Ng":0.3390,"ag":-0.70,"bg":14.1,"av":-0.275,"as":-1.05},
{"Ng":0.3435,"ag":-0.52,"bg":6.3,"av":-0.319,"as":-0.20},
{"Ng":0.3425,"ag":-0.98,"bg":17.6,"av":-0.289,"as":-0.80},
{"Ng":0.3410,"ag":-0.38,"bg":3.9,"av":-0.348,"as":0.10},
{"Ng":0.3455,"ag":-0.58,"bg":12.1,"av":-0.310,"as":-0.45},
{"Ng":0.3440,"ag":-0.92,"bg":7.7,"av":-0.299,"as":-0.95},
{"Ng":0.3485,"ag":-0.33,"bg":15,"av":-0.342,"as":-0.35},
{"Ng":0.3475,"ag":-0.75,"bg":3,"av":-0.281,"as":-1.15},
{"Ng":0.3460,"ag":-0.10,"bg":13,"av":-0.321,"as":-0.62},
{"Ng":0.3505,"ag":-0.64,"bg":6.1,"av":-0.293,"as":-1.05},
{"Ng":0.3490,"ag":-0.45,"bg":8.4,"av":-0.352,"as":-0.20},
{"Ng":0.3535,"ag":-0.86,"bg":11.8,"av":-0.315,"as":-0.80},
{"Ng":0.3525,"ag":-0.25,"bg":5.5,"av":-0.305,"as":0.10},
{"Ng":0.3510,"ag":-0.70,"bg":14.1,"av":-0.344,"as":-0.45},
{"Ng":0.3555,"ag":-0.52,"bg":3.6,"av":-0.285,"as":-0.95},
{"Ng":0.3540,"ag":-0.98,"bg":9.8,"av":-0.325,"as":-0.35},
{"Ng":0.3585,"ag":-0.38,"bg":6.2,"av":-0.298,"as":-1.15},
{"Ng":0.3575,"ag":-0.58,"bg":14.8,"av":-0.358,"as":-0.62},
{"Ng":0.3560,"ag":-0.92,"bg":2.5,"av":-0.317,"as":-1.05},
{"Ng":0.3605,"ag":-0.33,"bg":9.9,"av":-0.309,"as":-0.20},
{"Ng":0.2520,"ag":-0.47,"bg":16.8,"av":-0.274,"as":-0.36},
{"Ng":0.2508,"ag":-0.83,"bg":26.9,"av":-0.228,"as":-0.71},
{"Ng":0.2558,"ag":-0.19,"bg":11.4,"av":-0.264,"as":-0.08},
{"Ng":0.2544,"ag":-0.66,"bg":21.5,"av":-0.220,"as":-0.55},
{"Ng":0.2575,"ag":-0.95,"bg":29.9,"av":-0.291,"as":-0.97},
{"Ng":0.2553,"ag":-0.34,"bg":13.5,"av":-0.244,"as":-0.24},
{"Ng":0.2595,"ag":-0.58,"bg":22.8,"av":-0.303,"as":-0.63},
{"Ng":0.2583,"ag":-0.76,"bg":18.1,"av":-0.256,"as":-0.85},
{"Ng":0.2633,"ag":-0.26,"bg":27,"av":-0.281,"as":-0.44},
{"Ng":0.2619,"ag":-0.89,"bg":15.7,"av":-0.235,"as":-0.15},
{"Ng":0.2650,"ag":-0.52,"bg":25,"av":-0.270,"as":-0.36},
{"Ng":0.2628,"ag":-0.47,"bg":11,"av":-0.225,"as":-0.71},
{"Ng":0.2670,"ag":-0.83,"bg":20,"av":-0.296,"as":-0.08},
{"Ng":0.2658,"ag":-0.19,"bg":28.7,"av":-0.250,"as":-0.55},
{"Ng":0.2708,"ag":-0.66,"bg":12.2,"av":-0.309,"as":-0.97},
{"Ng":0.2694,"ag":-0.95,"bg":21.6,"av":-0.263,"as":-0.24},
{"Ng":0.2725,"ag":-0.34,"bg":16.6,"av":-0.286,"as":-0.63},
{"Ng":0.2703,"ag":-0.58,"bg":26.1,"av":-0.239,"as":-0.85},
{"Ng":0.2745,"ag":-0.76,"bg":14.6,"av":-0.276,"as":-0.44},
{"Ng":0.2733,"ag":-0.26,"bg":23.8,"av":-0.231,"as":-0.15},
{"Ng":0.2783,"ag":-0.89,"bg":9.8,"av":-0.303,"as":-0.36},
{"Ng":0.2769,"ag":-0.52,"bg":18.9,"av":-0.257,"as":-0.71},
{"Ng":0.2800,"ag":-0.47,"bg":26.4,"av":-0.315,"as":-0.08},
{"Ng":0.2778,"ag":-0.83,"bg":11.6,"av":-0.268,"as":-0.55},
{"Ng":0.2820,"ag":-0.19,"bg":20,"av":-0.292,"as":-0.97},
{"Ng":0.2808,"ag":-0.66,"bg":15.7,"av":-0.246,"as":-0.24},
{"Ng":0.2858,"ag":-0.95,"bg":23.8,"av":-0.282,"as":-0.63},
{"Ng":0.2844,"ag":-0.34,"bg":13.6,"av":-0.238,"as":-0.85},
{"Ng":0.2875,"ag":-0.58,"bg":21.8,"av":-0.308,"as":-0.44},
{"Ng":0.2853,"ag":-0.76,"bg":9.3,"av":-0.262,"as":-0.15},
{"Ng":0.2895,"ag":-0.26,"bg":17.4,"av":-0.321,"as":-0.36},
{"Ng":0.2883,"ag":-0.89,"bg":25.1,"av":-0.274,"as":-0.71},
{"Ng":0.2933,"ag":-0.52,"bg":10.2,"av":-0.299,"as":-0.08},
{"Ng":0.2919,"ag":-0.47,"bg":18.7,"av":-0.253,"as":-0.55},
{"Ng":0.2950,"ag":-0.83,"bg":14.2,"av":-0.288,"as":-0.97},
{"Ng":0.2928,"ag":-0.19,"bg":22.8,"av":-0.243,"as":-0.24},
{"Ng":0.2970,"ag":-0.66,"bg":12.3,"av":-0.314,"as":-0.63},
{"Ng":0.2958,"ag":-0.95,"bg":20.6,"av":-0.269,"as":-0.85},
{"Ng":0.3008,"ag":-0.34,"bg":7.8,"av":-0.328,"as":-0.44},
{"Ng":0.2994,"ag":-0.58,"bg":16.1,"av":-0.281,"as":-0.15},
{"Ng":0.3025,"ag":-0.76,"bg":23.1,"av":-0.305,"as":-0.36},
{"Ng":0.3003,"ag":-0.26,"bg":9.7,"av":-0.258,"as":-0.71},
{"Ng":0.3045,"ag":-0.89,"bg":17.2,"av":-0.294,"as":-0.08},
{"Ng":0.3033,"ag":-0.52,"bg":13.3,"av":-0.249,"as":-0.55},
{"Ng":0.3083,"ag":-0.47,"bg":20.7,"av":-0.321,"as":-0.97},
{"Ng":0.3069,"ag":-0.83,"bg":11.4,"av":-0.275,"as":-0.24},
{"Ng":0.3100,"ag":-0.19,"bg":18.9,"av":-0.333,"as":-0.63},
{"Ng":0.3078,"ag":-0.66,"bg":7.3,"av":-0.286,"as":-0.85},
{"Ng":0.3120,"ag":-0.95,"bg":14.7,"av":-0.310,"as":-0.44},
{"Ng":0.3108,"ag":-0.34,"bg":21.9,"av":-0.265,"as":-0.15},
{"Ng":0.3158,"ag":-0.58,"bg":8.1,"av":-0.301,"as":-0.36},
{"Ng":0.3144,"ag":-0.76,"bg":15.9,"av":-0.256,"as":-0.71},
{"Ng":0.3175,"ag":-0.26,"bg":11.9,"av":-0.327,"as":-0.08},
{"Ng":0.3153,"ag":-0.89,"bg":19.4,"av":-0.280,"as":-0.55},
{"Ng":0.3195,"ag":-0.52,"bg":10.2,"av":-0.339,"as":-0.97},
{"Ng":0.3183,"ag":-0.47,"bg":17.6,"av":-0.292,"as":-0.24},
{"Ng":0.3233,"ag":-0.83,"bg":6.3,"av":-0.317,"as":-0.62},
{"Ng":0.3219,"ag":-0.19,"bg":13.5,"av":-0.271,"as":0.02},
{"Ng":0.3250,"ag":-0.66,"bg":19.5,"av":-0.306,"as":-0.90},
{"Ng":0.3228,"ag":-0.95,"bg":7.7,"av":-0.261,"as":-0.40},
{"Ng":0.3270,"ag":-0.34,"bg":14.3,"av":-0.332,"as":-0.50},
{"Ng":0.3258,"ag":-0.58,"bg":10.9,"av":-0.287,"as":-1.08},
{"Ng":0.3308,"ag":-0.76,"bg":17.2,"av":-0.346,"as":0.15},
{"Ng":0.3294,"ag":-0.26,"bg":9.2,"av":-0.299,"as":-0.78},
{"Ng":0.3325,"ag":-0.89,"bg":15.6,"av":-0.323,"as":-0.30},
{"Ng":0.3303,"ag":-0.52,"bg":5.8,"av":-0.276,"as":-1.00},
{"Ng":0.3345,"ag":-0.47,"bg":11.9,"av":-0.312,"as":-0.62},
{"Ng":0.3333,"ag":-0.83,"bg":18.1,"av":-0.267,"as":0.02},
{"Ng":0.3383,"ag":-0.19,"bg":6.4,"av":-0.339,"as":-0.90},
{"Ng":0.3369,"ag":-0.66,"bg":13,"av":-0.293,"as":-0.40},
{"Ng":0.3400,"ag":-0.95,"bg":9.5,"av":-0.351,"as":-0.50},
{"Ng":0.3378,"ag":-0.34,"bg":16.3,"av":-0.304,"as":-1.08},
{"Ng":0.3420,"ag":-0.58,"bg":7.9,"av":-0.328,"as":0.15},
{"Ng":0.3408,"ag":-0.76,"bg":14.4,"av":-0.282,"as":-0.78},
{"Ng":0.3458,"ag":-0.26,"bg":4.6,"av":-0.318,"as":-0.30},
{"Ng":0.3444,"ag":-0.89,"bg":10.8,"av":-0.274,"as":-1.00},
{"Ng":0.3475,"ag":-0.52,"bg":16,"av":-0.345,"as":-0.62},
{"Ng":0.3453,"ag":-0.47,"bg":5.8,"av":-0.298,"as":0.02},
{"Ng":0.3495,"ag":-0.83,"bg":11.5,"av":-0.357,"as":-0.90},
{"Ng":0.3483,"ag":-0.19,"bg":8.7,"av":-0.310,"as":-0.40}
],
"cyan":[
{"Ng":0.170,"ag":-1.9,"bg":3.3},{"Ng":0.182,"ag":-1.9,"bg":0},{"Ng":0.186,"ag":-1.9,"bg":0},{"Ng":0.205,"ag":-1.9,"bg":0},{"Ng":0.215,"ag":-1.9,"bg":0},{"Ng":0.245,"ag":-1.9,"bg":0},{"Ng":0.256,"ag":-1.9,"bg":0},{"Ng":0.259,"ag":-1.9,"bg":0},{"Ng":0.263,"ag":-1.9,"bg":0},{"Ng":0.267,"ag":-1.9,"bg":0},{"Ng":0.271,"ag":-1.9,"bg":0},{"Ng":0.273,"ag":-1.9,"bg":0},{"Ng":0.282,"ag":-1.9,"bg":0},{"Ng":0.286,"ag":-1.9,"bg":0},{"Ng":0.290,"ag":-1.9,"bg":0},{"Ng":0.295,"ag":-1.9,"bg":0},{"Ng":0.299,"ag":-1.9,"bg":0},{"Ng":0.303,"ag":-1.9,"bg":0},{"Ng":0.308,"ag":-1.9,"bg":0},{"Ng":0.312,"ag":-1.9,"bg":0},{"Ng":0.316,"ag":-1.9,"bg":0},{"Ng":0.320,"ag":-1.9,"bg":0},{"Ng":0.325,"ag":-1.9,"bg":0},{"Ng":0.336,"ag":-1.9,"bg":0},{"Ng":0.342,"ag":-1.9,"bg":0},{"Ng":0.347,"ag":-1.9,"bg":0},{"Ng":0.357,"ag":-1.9,"bg":0},{"Ng":0.362,"ag":-1.9,"bg":0},{"Ng":0.375,"ag":-1.9,"bg":0},
{"Ng":0.263,"ag":-1.21,"bg":3.8},{"Ng":0.277,"ag":-1.16,"bg":2.6},{"Ng":0.327,"ag":-1.15,"bg":2.6},
{"Ng":0.345,"ag":-1.33,"bg":0},{"Ng":0.347,"ag":-1.44,"bg":0},{"Ng":0.349,"ag":-1.36,"bg":0},{"Ng":0.351,"ag":-1.46,"bg":0},{"Ng":0.353,"ag":-1.29,"bg":0},{"Ng":0.355,"ag":-1.39,"bg":0},{"Ng":0.357,"ag":-1.33,"bg":0},{"Ng":0.359,"ag":-1.43,"bg":0},{"Ng":0.361,"ag":-1.36,"bg":1.2},{"Ng":0.363,"ag":-1.30,"bg":0},{"Ng":0.365,"ag":-1.40,"bg":0},{"Ng":0.367,"ag":-1.31,"bg":0},{"Ng":0.369,"ag":-1.41,"bg":0},{"Ng":0.371,"ag":-1.33,"bg":0},{"Ng":0.373,"ag":-1.38,"bg":0},{"Ng":0.375,"ag":-1.27,"bg":0},{"Ng":0.377,"ag":-1.37,"bg":0},{"Ng":0.379,"ag":-1.30,"bg":0},{"Ng":0.381,"ag":-1.37,"bg":0},{"Ng":0.383,"ag":-1.34,"bg":0},{"Ng":0.385,"ag":-1.28,"bg":0},{"Ng":0.387,"ag":-1.37,"bg":0},{"Ng":0.389,"ag":-1.28,"bg":0},{"Ng":0.391,"ag":-1.36,"bg":0},{"Ng":0.393,"ag":-1.31,"bg":0},{"Ng":0.395,"ag":-1.37,"bg":0},{"Ng":0.397,"ag":-1.24,"bg":0},{"Ng":0.399,"ag":-1.34,"bg":0},
{"Ng":0.401,"ag":-1.28,"bg":0},{"Ng":0.403,"ag":-1.36,"bg":0},{"Ng":0.405,"ag":-1.31,"bg":0},{"Ng":0.407,"ag":-1.25,"bg":0},{"Ng":0.409,"ag":-1.35,"bg":0},{"Ng":0.410,"ag":-1.03,"bg":0},{"Ng":0.411,"ag":-1.26,"bg":0},{"Ng":0.413,"ag":-1.37,"bg":0},{"Ng":0.415,"ag":-1.28,"bg":0},{"Ng":0.417,"ag":-1.35,"bg":0},{"Ng":0.419,"ag":-1.22,"bg":0},{"Ng":0.421,"ag":-1.32,"bg":0},{"Ng":0.423,"ag":-1.25,"bg":0},{"Ng":0.425,"ag":-1.36,"bg":0},{"Ng":0.427,"ag":-1.29,"bg":0},{"Ng":0.429,"ag":-1.23,"bg":0},{"Ng":0.431,"ag":-1.33,"bg":0},{"Ng":0.433,"ag":-1.23,"bg":0},{"Ng":0.435,"ag":-1.34,"bg":0},{"Ng":0.437,"ag":-1.26,"bg":0},{"Ng":0.439,"ag":-1.34,"bg":0},{"Ng":0.441,"ag":-1.19,"bg":0},{"Ng":0.443,"ag":-1.29,"bg":0},{"Ng":0.445,"ag":-1.23,"bg":0},{"Ng":0.447,"ag":-1.34,"bg":0},{"Ng":0.449,"ag":-1.27,"bg":0},
{"Ng":0.451,"ag":-1.20,"bg":0},{"Ng":0.453,"ag":-1.30,"bg":0},{"Ng":0.455,"ag":-1.21,"bg":0},{"Ng":0.457,"ag":-1.32,"bg":0},{"Ng":0.459,"ag":-1.24,"bg":0},{"Ng":0.461,"ag":-1.31,"bg":0},{"Ng":0.463,"ag":-1.17,"bg":0},{"Ng":0.465,"ag":-1.27,"bg":0},{"Ng":0.467,"ag":-1.21,"bg":0},{"Ng":0.469,"ag":-1.31,"bg":0},{"Ng":0.471,"ag":-1.24,"bg":0},{"Ng":0.473,"ag":-1.18,"bg":0},{"Ng":0.475,"ag":-1.28,"bg":0},{"Ng":0.477,"ag":-1.19,"bg":0},{"Ng":0.479,"ag":-1.29,"bg":0},{"Ng":0.481,"ag":-1.21,"bg":0},{"Ng":0.483,"ag":-1.27,"bg":0},{"Ng":0.485,"ag":-0.95,"bg":0},{"Ng":0.487,"ag":-1.24,"bg":0},{"Ng":0.489,"ag":-1.18,"bg":0},{"Ng":0.491,"ag":-1.29,"bg":0},{"Ng":0.493,"ag":-1.22,"bg":0},{"Ng":0.495,"ag":-1.16,"bg":0},{"Ng":0.497,"ag":-1.25,"bg":0},{"Ng":0.499,"ag":-1.22,"bg":0},
{"Ng":0.517,"ag":-1.16,"bg":0},{"Ng":0.525,"ag":-1.13,"bg":0},{"Ng":0.533,"ag":-1.22,"bg":0},
{"Ng":0.354,"ag":-1.42,"bg":0},{"Ng":0.358,"ag":-1.26,"bg":0},{"Ng":0.362,"ag":-1.45,"bg":0},{"Ng":0.368,"ag":-1.28,"bg":0},{"Ng":0.372,"ag":-1.24,"bg":0},{"Ng":0.376,"ag":-1.41,"bg":0},{"Ng":0.380,"ag":-1.22,"bg":0},{"Ng":0.384,"ag":-1.40,"bg":0},{"Ng":0.388,"ag":-1.20,"bg":0},{"Ng":0.392,"ag":-1.30,"bg":0},{"Ng":0.396,"ag":-1.16,"bg":0},{"Ng":0.400,"ag":-1.38,"bg":0},{"Ng":0.404,"ag":-1.18,"bg":0},{"Ng":0.408,"ag":-1.30,"bg":0},{"Ng":0.412,"ag":-1.14,"bg":0},{"Ng":0.416,"ag":-1.24,"bg":0},{"Ng":0.420,"ag":-1.33,"bg":0},{"Ng":0.424,"ag":-1.12,"bg":0},{"Ng":0.428,"ag":-1.38,"bg":0},{"Ng":0.432,"ag":-1.16,"bg":0},{"Ng":0.436,"ag":-1.28,"bg":0},{"Ng":0.440,"ag":-1.10,"bg":0},{"Ng":0.444,"ag":-1.36,"bg":0},{"Ng":0.448,"ag":-1.14,"bg":0},{"Ng":0.452,"ag":-1.25,"bg":0},{"Ng":0.456,"ag":-1.12,"bg":0},{"Ng":0.460,"ag":-1.20,"bg":0},{"Ng":0.464,"ag":-1.30,"bg":0},{"Ng":0.468,"ag":-1.12,"bg":0},{"Ng":0.472,"ag":-1.22,"bg":0},{"Ng":0.478,"ag":-1.06,"bg":0},{"Ng":0.482,"ag":-1.30,"bg":0},{"Ng":0.490,"ag":-1.12,"bg":0},{"Ng":0.496,"ag":-1.20,"bg":0}
]
},
"config":{
"view":{"stroke":"#333333","strokeWidth":1},
"axis":{"grid":false,"domain":false,"tickColor":"#444444","tickSize":-4.5,"tickWidth":1,"labelFont":"Liberation Serif","labelFontSize":17.5,"labelColor":"#333333","labelOverlap":false,"labelFlush":false,"titleFont":"Liberation Serif","titleFontStyle":"italic","titleFontWeight":"normal","titleColor":"#111111"},
"axisX":{"labelPadding":5.5},
"axisY":{"labelPadding":8}
},
"columns":2,
"spacing":{"row":0,"column":95.7},
"bounds":"flush",
"concat":[
{"width":317,"height":165,
"layer":[
{"data":{"name":"red"},"mark":{"type":"circle","size":26,"opacity":1,"color":"#ff0000"},
"encoding":{
"x":{"field":"Ng","type":"quantitative","scale":{"domain":[0.13,0.54],"nice":false,"zero":false},"axis":{"values":[0.15,0.2,0.25,0.3,0.35,0.4,0.45,0.5],"labels":false,"title":null}},
"y":{"field":"ag","type":"quantitative","scale":{"domain":[-2.29,1.2],"nice":false,"zero":false},"axis":{"values":[-2,-1.5,-1,-0.5,0,0.5,1],"format":".0f","labelExpr":"datum.value == round(datum.value) ? datum.label : ''","title":"a","titleX":-42,"titleY":88,"titleAngle":-90,"titleAlign":"center","titleBaseline":"alphabetic","titleFontSize":28}}}},
{"data":{"name":"cyan"},"mark":{"type":"circle","size":26,"opacity":1,"color":"#00bfbf"},
"encoding":{
"x":{"field":"Ng","type":"quantitative","scale":{"domain":[0.13,0.54],"nice":false,"zero":false},"axis":{"orient":"top","labels":false,"ticks":false,"title":"(a)","titleX":303,"titleY":20.5,"titleAngle":0,"titleAlign":"right","titleBaseline":"alphabetic","titleFontSize":20,"titleFontWeight":"bold","titleFontStyle":"normal"}},
"y":{"field":"ag","type":"quantitative","scale":{"domain":[-2.29,1.2],"nice":false,"zero":false},"axis":{"orient":"left","labels":false,"ticks":false,"title":"g","titleX":-38,"titleY":74,"titleAngle":-90,"titleAlign":"center","titleBaseline":"alphabetic","titleFontSize":20}}}}
],
"resolve":{"scale":{"x":"independent","y":"independent"}}
},
{"width":317,"height":165,
"layer":[
{"data":{"name":"red"},"transform":[{"filter":"datum.Ng <= 0.45"}],"mark":{"type":"circle","size":26,"opacity":1,"color":"#ff0000"},
"encoding":{
"x":{"field":"Ng","type":"quantitative","scale":{"domain":[0.13,0.54],"nice":false,"zero":false},"axis":{"values":[0.15,0.2,0.25,0.3,0.35,0.4,0.45,0.5],"labels":false,"title":null}},
"y":{"field":"av","type":"quantitative","scale":{"domain":[-0.459,-0.165],"nice":false,"zero":false},"axis":{"values":[-0.45,-0.4,-0.35,-0.3,-0.25,-0.2],"format":".1f","labelExpr":"abs(datum.value*10 - round(datum.value*10)) < 0.01 ? datum.label : ''","title":"a","titleX":-42,"titleY":88,"titleAngle":-90,"titleAlign":"center","titleBaseline":"alphabetic","titleFontSize":28}}}},
{"data":{"name":"red"},"transform":[{"filter":"datum.Ng > 0.45"}],"mark":{"type":"circle","size":26,"opacity":1,"color":"#ff0000"},
"encoding":{
"x":{"field":"Ng","type":"quantitative","scale":{"domain":[0.13,0.54],"nice":false,"zero":false},"axis":{"orient":"top","labels":false,"ticks":false,"title":"(c)","titleX":303,"titleY":20.5,"titleAngle":0,"titleAlign":"right","titleBaseline":"alphabetic","titleFontSize":20,"titleFontWeight":"bold","titleFontStyle":"normal"}},
"y":{"field":"av","type":"quantitative","scale":{"domain":[-0.459,-0.165],"nice":false,"zero":false},"axis":{"orient":"left","labels":false,"ticks":false,"title":"v","titleX":-38,"titleY":74,"titleAngle":-90,"titleAlign":"center","titleBaseline":"alphabetic","titleFontSize":20}}}}
],
"resolve":{"scale":{"x":"independent","y":"independent"}}
},
{"width":317,"height":166,
"layer":[
{"data":{"name":"red"},"mark":{"type":"circle","size":26,"opacity":1,"color":"#ff0000"},
"encoding":{
"x":{"field":"Ng","type":"quantitative","scale":{"domain":[0.13,0.54],"nice":false,"zero":false},"axis":{"values":[0.15,0.2,0.25,0.3,0.35,0.4,0.45,0.5],"format":".1f","labelExpr":"abs(datum.value*10 - round(datum.value*10)) < 0.01 ? datum.label : ''","title":"N","titleX":156,"titleY":39,"titleAngle":0,"titleAlign":"center","titleBaseline":"alphabetic","titleFontSize":28}},
"y":{"field":"bg","type":"quantitative","scale":{"domain":[-3.7,60.3],"nice":false,"zero":false},"axis":{"values":[0,10,20,30,40,50],"format":"d","labelExpr":"datum.value % 20 == 0 ? datum.label : ''","title":"b","titleX":-42,"titleY":88,"titleAngle":-90,"titleAlign":"center","titleBaseline":"alphabetic","titleFontSize":28}}}},
{"data":{"name":"cyan"},"transform":[{"filter":"datum.Ng <= 0.45"}],"mark":{"type":"circle","size":26,"opacity":1,"color":"#00bfbf"},
"encoding":{
"x":{"field":"Ng","type":"quantitative","scale":{"domain":[0.13,0.54],"nice":false,"zero":false},"axis":{"orient":"bottom","labels":false,"ticks":false,"title":"g","titleX":171,"titleY":42.5,"titleAngle":0,"titleAlign":"center","titleBaseline":"alphabetic","titleFontSize":20}},
"y":{"field":"bg","type":"quantitative","scale":{"domain":[-3.7,60.3],"nice":false,"zero":false},"axis":{"orient":"left","labels":false,"ticks":false,"title":"g","titleX":-38,"titleY":74,"titleAngle":-90,"titleAlign":"center","titleBaseline":"alphabetic","titleFontSize":20}}}},
{"data":{"name":"cyan"},"transform":[{"filter":"datum.Ng > 0.45"}],"mark":{"type":"circle","size":26,"opacity":1,"color":"#00bfbf"},
"encoding":{
"x":{"field":"Ng","type":"quantitative","scale":{"domain":[0.13,0.54],"nice":false,"zero":false},"axis":{"orient":"top","labels":false,"ticks":false,"title":"(b)","titleX":303,"titleY":20.5,"titleAngle":0,"titleAlign":"right","titleBaseline":"alphabetic","titleFontSize":20,"titleFontWeight":"bold","titleFontStyle":"normal"}},
"y":{"field":"bg","type":"quantitative","scale":{"domain":[-3.7,60.3],"nice":false,"zero":false},"axis":null}}}
],
"resolve":{"scale":{"x":"independent","y":"independent"}}
},
{"width":317,"height":166,
"layer":[
{"data":{"name":"red"},"transform":[{"filter":"datum.Ng <= 0.45"}],"mark":{"type":"circle","size":26,"opacity":1,"color":"#ff0000"},
"encoding":{
"x":{"field":"Ng","type":"quantitative","scale":{"domain":[0.13,0.54],"nice":false,"zero":false},"axis":{"values":[0.15,0.2,0.25,0.3,0.35,0.4,0.45,0.5],"format":".1f","labelExpr":"abs(datum.value*10 - round(datum.value*10)) < 0.01 ? datum.label : ''","title":"N","titleX":156,"titleY":39,"titleAngle":0,"titleAlign":"center","titleBaseline":"alphabetic","titleFontSize":28}},
"y":{"field":"as","type":"quantitative","scale":{"domain":[-1.571,1.136],"nice":false,"zero":false},"axis":{"values":[-1.5,-1,-0.5,0,0.5,1],"format":".0f","labelExpr":"datum.value == round(datum.value) ? datum.label : ''","title":"a","titleX":-42,"titleY":88,"titleAngle":-90,"titleAlign":"center","titleBaseline":"alphabetic","titleFontSize":28}}}},
{"data":{"name":"red"},"transform":[{"filter":"datum.Ng > 0.45 && datum.Ng <= 0.47"}],"mark":{"type":"circle","size":26,"opacity":1,"color":"#ff0000"},
"encoding":{
"x":{"field":"Ng","type":"quantitative","scale":{"domain":[0.13,0.54],"nice":false,"zero":false},"axis":{"orient":"bottom","labels":false,"ticks":false,"title":"g","titleX":171,"titleY":42.5,"titleAngle":0,"titleAlign":"center","titleBaseline":"alphabetic","titleFontSize":20}},
"y":{"field":"as","type":"quantitative","scale":{"domain":[-1.571,1.136],"nice":false,"zero":false},"axis":{"orient":"left","labels":false,"ticks":false,"title":"s","titleX":-38,"titleY":74,"titleAngle":-90,"titleAlign":"center","titleBaseline":"alphabetic","titleFontSize":20}}}},
{"data":{"name":"red"},"transform":[{"filter":"datum.Ng > 0.47"}],"mark":{"type":"circle","size":26,"opacity":1,"color":"#ff0000"},
"encoding":{
"x":{"field":"Ng","type":"quantitative","scale":{"domain":[0.13,0.54],"nice":false,"zero":false},"axis":{"orient":"top","labels":false,"ticks":false,"title":"(d)","titleX":303,"titleY":20.5,"titleAngle":0,"titleAlign":"right","titleBaseline":"alphabetic","titleFontSize":20,"titleFontWeight":"bold","titleFontStyle":"normal"}},
"y":{"field":"as","type":"quantitative","scale":{"domain":[-1.571,1.136],"nice":false,"zero":false},"axis":null}}}
],
"resolve":{"scale":{"x":"independent","y":"independent"}}
}
]
}
